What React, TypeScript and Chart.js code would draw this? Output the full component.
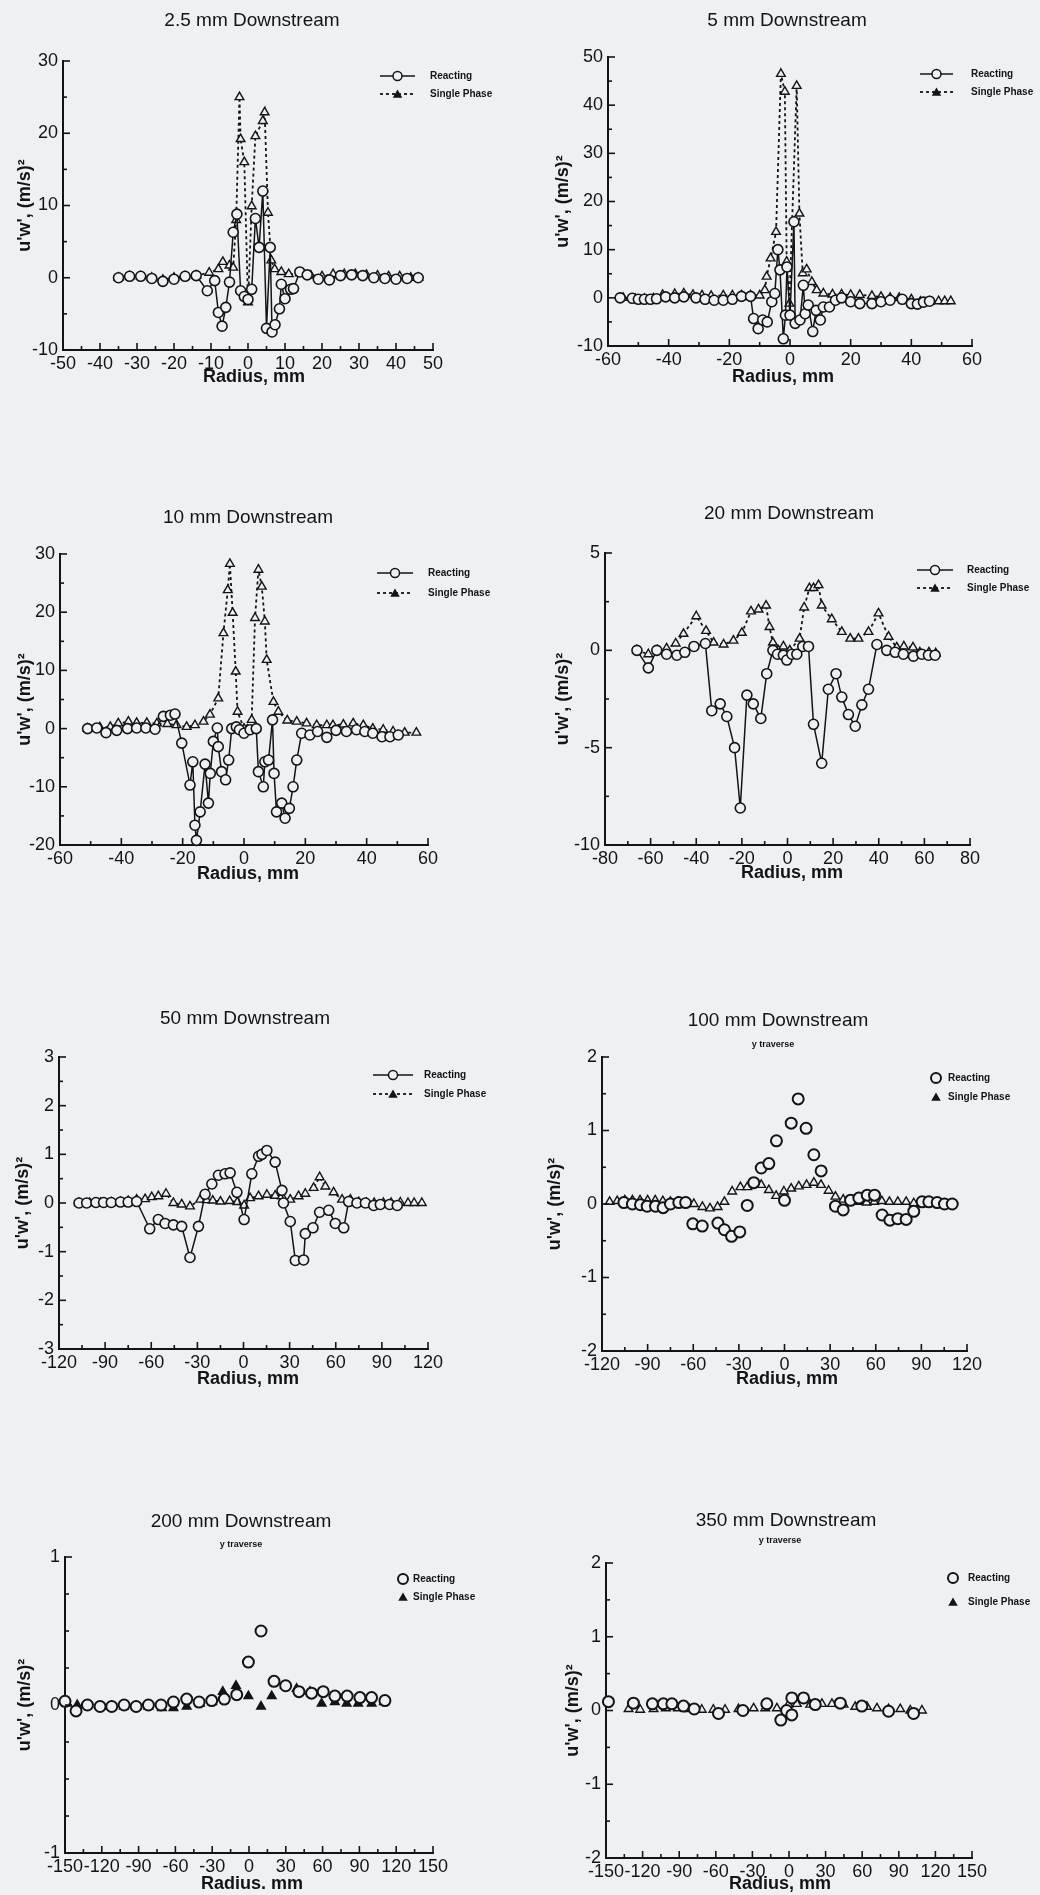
import React, { useEffect, useRef } from "react";
import { Chart, registerables } from "chart.js";

Chart.register(...registerables);

type Pt = [number, number];

// ---------- DATA (radius mm, u'w' (m/s)^2) ----------
const reacting2_5: Pt[] = [[-35,0],[-32,0.2],[-29,0.2],[-26,-0.1],[-23,-0.5],[-20,-0.2],[-17,0.2],[-14,0.3],[-11,-1.8],[-9,-0.4],[-8,-4.8],[-7,-6.7],[-6,-4.1],[-5,-0.6],[-4,6.3],[-3,8.8],[-2,-1.8],[-1,-2.6],[0,-3.0],[1,-1.6],[2,8.2],[3,4.2],[4,12],[5,-7],[6,4.2],[6.5,-7.5],[7.3,-6.5],[8.5,-4.3],[9,-0.9],[10,-2.9],[11.5,-1.6],[12.3,-1.5],[14,0.8],[16,0.4],[19,-0.2],[22,-0.3],[25,0.3],[28,0.4],[31,0.3],[34,0],[37,-0.1],[40,-0.2],[43,-0.1],[46,0]];
const single2_5: Pt[] = [[-35,0],[-32,0.2],[-29,0.2],[-26,0],[-23,-0.3],[-20,0],[-17,0.2],[-14,0.3],[-10.5,0.7],[-8,1.2],[-6.8,2.2],[-5,1.7],[-4,1.4],[-3.2,8.0],[-2.3,25],[-2,19.2],[-1,16],[0,-3.4],[1,9.9],[2,19.6],[4,21.7],[4.5,22.9],[5.4,9],[6.3,2.4],[7.2,1.2],[9,0.8],[11,0.5],[14,0.6],[17,0.3],[20,0.2],[23,0.5],[26,0.5],[29,0.5],[32,0.4],[35,0.3],[38,0.2],[41,0.2],[44,0],[46,0]];

const reacting5: Pt[] = [[-56,0],[-52,-0.1],[-50,-0.3],[-48,-0.3],[-46,-0.3],[-44,-0.2],[-41,0.2],[-38,0],[-35,0.2],[-31,0],[-28,-0.3],[-25,-0.5],[-22,-0.5],[-19,-0.3],[-16,0.3],[-13,0.3],[-12,-4.3],[-10.5,-6.4],[-9,-4.6],[-7.5,-5],[-6,-0.8],[-5,0.9],[-4,10],[-3.3,5.8],[-2.2,-8.5],[-1.5,-3.6],[-1,6.4],[0,-3.6],[1.3,15.8],[1.7,-5.3],[3.3,-4.6],[4.4,2.6],[5,-3.3],[6,-1.5],[7.5,-7],[8.6,-2.6],[10,-4.6],[11,-1.9],[13,-1.9],[15,-0.5],[17,0],[20,-0.8],[23,-1.2],[27,-1.2],[30,-0.8],[33,-0.5],[37,-0.3],[40,-1.2],[42,-1.3],[44,-0.9],[46,-0.7]];
const single5: Pt[] = [[-55,0],[-51,-0.2],[-48,-0.2],[-45,-0.1],[-42,0.6],[-38,0.8],[-35,0.9],[-32,0.6],[-29,0.5],[-26,0.4],[-22,0.5],[-19,0.5],[-16,0.5],[-13,0.5],[-10,0.5],[-8.3,1.6],[-7.7,4.4],[-6.4,8.2],[-4.6,13.7],[-3,46.5],[-1.7,42.8],[-1.1,7.5],[-0.2,-1.2],[2.2,44],[3.1,17.5],[4.2,5.1],[5.5,5.9],[7.2,3.3],[8.8,1.6],[11,0.9],[14,0.7],[17,0.7],[20,0.6],[23,0.6],[27,0.4],[30,0.2],[33,0],[36,0],[40,-0.3],[43,-0.8],[46,-0.8],[49,-0.7],[51,-0.7],[53,-0.7]];

const reacting10: Pt[] = [[-51,0],[-48,0.1],[-45,-0.7],[-41.5,-0.3],[-38,0],[-35,0.1],[-32,0.1],[-29,-0.1],[-26.3,2.1],[-24,2.3],[-22.5,2.5],[-20.3,-2.5],[-17.6,-9.7],[-16.7,-5.7],[-16,-16.6],[-15.5,-19.2],[-14.3,-14.3],[-12.7,-6.1],[-11.6,-12.8],[-11,-7.7],[-10,-2.2],[-8.7,0.1],[-8.4,-3.1],[-7.3,-7.4],[-6,-8.8],[-5,-5.4],[-4,0],[-2.5,0.3],[-1.5,-0.2],[0,-0.8],[2,-0.2],[4,0],[4.7,-7.4],[6.3,-10],[6.8,-5.7],[8,-5.4],[9.3,1.5],[9.8,-7.7],[10.6,-14.3],[12.3,-12.8],[13.4,-15.4],[14.8,-13.7],[16,-10],[17.2,-5.4],[18.8,-0.8],[21.5,-1.1],[24,-0.5],[27,-1.5],[30,-0.3],[33.4,-0.5],[36.7,-0.2],[39.4,-0.5],[42,-0.8],[45,-1.4],[47.6,-1.4],[50.3,-1.1]];
const single10: Pt[] = [[-51,0],[-47,0.2],[-43.6,0.3],[-41,0.9],[-37.7,1.2],[-35,1],[-31.7,1],[-28.4,0.9],[-25,0.8],[-22,0.6],[-18.7,0.3],[-16,0.6],[-13.2,1.2],[-11.1,2.4],[-8.4,5.2],[-6.7,16.4],[-5.3,23.8],[-4.6,28.3],[-3.7,19.9],[-2.7,9.8],[-2.1,2.9],[0,0],[2.5,1.5],[3.6,19],[4.7,27.3],[5.8,24.4],[6.8,18.4],[7.4,11.8],[9.6,4.6],[11.2,2.9],[14.1,1.4],[17.2,1.2],[20.4,0.9],[23.7,0.6],[27,0.6],[29,0.6],[32.4,0.7],[35.6,0.9],[38.9,0.6],[42,0],[45.4,-0.2],[48.6,-0.5],[52.4,-0.7],[56.2,-0.7]];

const reacting20: Pt[] = [[-66,0],[-61,-0.9],[-57.3,0],[-53,-0.2],[-48.5,-0.25],[-45,-0.1],[-41,0.2],[-36,0.35],[-33.2,-3.1],[-29.5,-2.75],[-26.6,-3.4],[-23.2,-5],[-20.7,-8.1],[-17.8,-2.3],[-15,-2.75],[-11.7,-3.5],[-9.1,-1.2],[-6.4,0],[-4.4,-0.2],[-1.8,-0.25],[-0.3,-0.5],[1.9,-0.2],[4.1,-0.2],[6.7,0.2],[9.2,0.2],[11.4,-3.8],[15,-5.8],[17.9,-2],[21.3,-1.2],[23.8,-2.4],[26.7,-3.3],[29.7,-3.9],[32.6,-2.8],[35.5,-2],[39.2,0.3],[43.5,0],[47.2,-0.1],[50.8,-0.2],[55.2,-0.3],[58.9,-0.2],[61.8,-0.25],[64.7,-0.25]];
const single20: Pt[] = [[-66,0],[-61,-0.2],[-57,0],[-53,0.1],[-49,0.35],[-45.6,0.85],[-40,1.75],[-35.7,1],[-32.4,0.4],[-28,0.3],[-23.7,0.5],[-20,0.9],[-16,2],[-12.7,2.1],[-9.4,2.3],[-7.9,1.2],[-6.4,0.4],[-4,0],[-1.8,0.2],[1,0],[5.3,0.6],[7.3,2.2],[9.6,3.2],[11.4,3.2],[13.6,3.35],[15,2.3],[19.4,1.6],[23.8,0.95],[27.5,0.6],[31.1,0.6],[35.5,0.95],[39.9,1.9],[44.3,0.7],[47.9,0.15],[51,0.2],[55,0.15],[58,-0.1],[62,-0.1],[65,-0.15]];

const reacting50: Pt[] = [[-107,0],[-102,0],[-96,0.01],[-91,0.01],[-86,0.01],[-80,0.02],[-75,0.02],[-69.5,0.03],[-61,-0.53],[-55.4,-0.34],[-51,-0.42],[-45.6,-0.45],[-40.2,-0.48],[-34.8,-1.12],[-29.3,-0.48],[-25,0.18],[-20.6,0.39],[-16.3,0.57],[-12,0.6],[-8.7,0.62],[-4.3,0.22],[0.4,-0.34],[5.4,0.6],[9.8,0.96],[12,1.0],[15.2,1.08],[20.6,0.84],[25,0.26],[26,0],[30.4,-0.38],[33.7,-1.18],[39.1,-1.17],[40.2,-0.63],[45.2,-0.51],[49.5,-0.19],[55.4,-0.15],[59.7,-0.42],[65.2,-0.51],[68.4,0.03],[73.8,0],[79.3,0],[84.7,-0.05],[89,-0.03],[95,-0.03],[100,-0.05]];
const single50: Pt[] = [[-107,0],[-100,0],[-93,0],[-86,0.01],[-80,0.02],[-75,0.04],[-69.5,0.07],[-64,0.08],[-59.7,0.12],[-55.4,0.14],[-50.4,0.19],[-45.6,0],[-40.2,-0.03],[-34.8,-0.07],[-28.2,0.07],[-24,0.06],[-20,0.05],[-15,0.03],[-9,0.04],[-4,0.02],[0.4,-0.05],[4.3,0.1],[9.8,0.14],[15.2,0.17],[20.6,0.15],[25,0.14],[30.4,0.07],[35.8,0.14],[40.2,0.19],[45.6,0.31],[49.5,0.53],[53.2,0.34],[58.6,0.22],[64.1,0.07],[69.5,0.07],[75,0.02],[80,0],[85,0],[91,0],[96,0],[102,0.01],[107,0],[111,0],[116,0]];

const reacting100: Pt[] = [[-105.6,0.02],[-100,0],[-94.7,-0.01],[-90.3,-0.03],[-84.8,-0.03],[-79.8,-0.05],[-75,0],[-69.5,0.02],[-65,0.02],[-60.3,-0.27],[-54.1,-0.3],[-43.8,-0.26],[-39.5,-0.35],[-34.8,-0.44],[-29.4,-0.38],[-24.5,-0.02],[-20.2,0.29],[-15.3,0.49],[-10.3,0.55],[-5.3,0.86],[0,0.05],[4.4,1.1],[9,1.43],[14.2,1.03],[19.3,0.67],[24.1,0.45],[33.5,-0.03],[38.6,-0.08],[43.4,0.05],[48.9,0.08],[54.4,0.12],[59.2,0.12],[64.2,-0.15],[69.3,-0.22],[74.5,-0.2],[80,-0.21],[85,-0.1],[90.5,0.03],[94.9,0.03],[100.4,0.02],[105.2,0],[110.3,0]];
const single100: Pt[] = [[-115,0.03],[-110,0.04],[-105,0.05],[-100,0.05],[-95,0.05],[-90,0.05],[-85,0.05],[-80,0.04],[-75,0.03],[-70,0.03],[-64,0.02],[-59.6,0],[-54,-0.04],[-49,-0.06],[-44,-0.04],[-39.5,0.03],[-34.4,0.17],[-29,0.23],[-24.5,0.23],[-20,0.28],[-15.3,0.26],[-10.3,0.19],[-5.5,0.11],[-0.4,0.17],[4.4,0.21],[9.4,0.24],[14.5,0.26],[19.3,0.29],[24,0.26],[29,0.18],[33.5,0.1],[38.6,0.06],[43.4,0.05],[49,0.03],[54,0.02],[59,0.03],[64,0.04],[69,0.03],[74.5,0.03],[80,0.03],[85,0.01],[90,0.01],[95,0.02],[100,0.02],[105,0]];

const reacting200: Pt[] = [[-150,0.025],[-141,-0.04],[-131.7,0],[-121.4,-0.01],[-111.9,-0.01],[-101.8,0],[-92,-0.01],[-82,0],[-71.7,0],[-61.6,0.02],[-50.8,0.04],[-40.7,0.02],[-30.4,0.03],[-20.1,0.04],[-10,0.07],[-0.5,0.29],[9.8,0.5],[20.4,0.16],[29.9,0.13],[40.7,0.09],[51,0.08],[60.5,0.09],[70,0.06],[80,0.06],[90.4,0.05],[99.9,0.05],[110.8,0.03]];
const single200: Pt[] = [[-148,0.01],[-140,0],[-131,0],[-121,-0.01],[-112,-0.01],[-102,-0.01],[-92,-0.01],[-82,-0.01],[-71,-0.02],[-61.6,-0.02],[-50.8,-0.01],[-40,0.01],[-30,0.02],[-21.4,0.09],[-10.6,0.13],[-0.5,0.06],[9.8,-0.01],[18.5,0.06],[29.3,0.13],[38.8,0.11],[49.7,0.09],[59.2,0.01],[70,0.02],[79.6,0.01],[89,0.01],[100,0.01],[110,0.02]];

const reacting350: Pt[] = [[-148,0.12],[-127.5,0.1],[-112,0.09],[-103,0.09],[-96,0.09],[-86.5,0.06],[-77.7,0.02],[-57.8,-0.04],[-37.8,0],[-18.2,0.09],[-6.7,-0.13],[-2,0],[2.3,-0.06],[2.3,0.17],[11.9,0.17],[21.5,0.08],[42,0.1],[59.7,0.06],[81.6,-0.01],[102.1,-0.04]];
const single350: Pt[] = [[-131.5,0.02],[-122,0.01],[-111,0.02],[-101,0.03],[-91,0.03],[-81.5,0.02],[-71.5,0.01],[-62,0.01],[-52.4,0.01],[-41.4,0.02],[-29,0.03],[-19.5,0.03],[-9.9,0.03],[-0.4,0.08],[6.4,0.09],[17.4,0.08],[27,0.09],[35.2,0.09],[44.7,0.08],[54.3,0.05],[63.9,0.05],[72.1,0.03],[81.6,0.02],[91.2,0.02],[99.4,0],[109,0]];

const SERIES_LABELS = ["Reacting", "Single Phase"];
const Y_LABEL = "u'w', (m/s)²";

// ---------- STYLE / LAYOUT ----------
const INK = "#141414";
const BG = "#eef0f4";
const FONT = '"Liberation Sans", Arial, Helvetica, sans-serif';

interface Panel {
  title: string;
  subtitle?: string;
  xLabel: string;
  reacting: Pt[];
  single: Pt[];
  x: [number, number, number, number]; // min, max, step, minor
  y: [number, number, number, number];
  lines: boolean;
  filledTri: boolean;
  box: [number, number, number, number]; // left, top, width, height (page)
  area: [number, number, number, number]; // l, t, r, b (page)
  titlePos: [number, number];
  subPos?: [number, number];
  xLabelPos: [number, number];
  yLabelX: number;
  legend: { x1: number; x2: number; tx: number; y1: number; y2: number };
}

const PANELS: Panel[] = [
  { title: "2.5 mm Downstream", xLabel: "Radius, mm", reacting: reacting2_5, single: single2_5,
    x: [-50, 50, 10, 5], y: [-10, 30, 10, 5], lines: true, filledTri: false,
    box: [0, 0, 520, 495], area: [63, 61, 433, 350], titlePos: [252, 21], xLabelPos: [254, 377], yLabelX: 25,
    legend: { x1: 380, x2: 415, tx: 430, y1: 76, y2: 94 } },
  { title: "5 mm Downstream", xLabel: "Radius, mm", reacting: reacting5, single: single5,
    x: [-60, 60, 20, 10], y: [-10, 50, 10, 5], lines: true, filledTri: false,
    box: [520, 0, 520, 495], area: [608, 57, 972, 346], titlePos: [787, 21], xLabelPos: [783, 377], yLabelX: 563,
    legend: { x1: 920, x2: 953, tx: 971, y1: 74, y2: 92 } },
  { title: "10 mm Downstream", xLabel: "Radius, mm", reacting: reacting10, single: single10,
    x: [-60, 60, 20, 10], y: [-20, 30, 10, 5], lines: true, filledTri: false,
    box: [0, 495, 520, 505], area: [60, 554, 428, 845], titlePos: [248, 518], xLabelPos: [248, 874], yLabelX: 25,
    legend: { x1: 377, x2: 413, tx: 428, y1: 573, y2: 593 } },
  { title: "20 mm Downstream", xLabel: "Radius, mm", reacting: reacting20, single: single20,
    x: [-80, 80, 20, 10], y: [-10, 5, 5, 2.5], lines: true, filledTri: false,
    box: [520, 495, 520, 505], area: [605, 553, 970, 845], titlePos: [789, 514], xLabelPos: [792, 873], yLabelX: 563,
    legend: { x1: 917, x2: 953, tx: 967, y1: 570, y2: 588 } },
  { title: "50 mm Downstream", xLabel: "Radius, mm", reacting: reacting50, single: single50,
    x: [-120, 120, 30, 15], y: [-3, 3, 1, 0.5], lines: true, filledTri: false,
    box: [0, 1000, 520, 500], area: [59, 1057, 428, 1349], titlePos: [245, 1019], xLabelPos: [248, 1379], yLabelX: 23,
    legend: { x1: 373, x2: 413, tx: 424, y1: 1075, y2: 1094 } },
  { title: "100 mm Downstream", subtitle: "y traverse", xLabel: "Radius, mm", reacting: reacting100, single: single100,
    x: [-120, 120, 30, 15], y: [-2, 2, 1, 0.5], lines: false, filledTri: false,
    box: [520, 1000, 520, 500], area: [602, 1057, 967, 1351], titlePos: [778, 1021], subPos: [773, 1045], xLabelPos: [787, 1379], yLabelX: 555,
    legend: { x1: 936, x2: 936, tx: 948, y1: 1078, y2: 1097 } },
  { title: "200 mm Downstream", subtitle: "y traverse", xLabel: "Radius. mm", reacting: reacting200, single: single200,
    x: [-150, 150, 30, 15], y: [-1, 1, 1, 0.25], lines: false, filledTri: true,
    box: [0, 1500, 520, 395], area: [65, 1557, 433, 1853], titlePos: [241, 1522], subPos: [241, 1545], xLabelPos: [252, 1884], yLabelX: 25,
    legend: { x1: 403, x2: 403, tx: 413, y1: 1579, y2: 1597 } },
  { title: "350 mm Downstream", subtitle: "y traverse", xLabel: "Radius, mm", reacting: reacting350, single: single350,
    x: [-150, 150, 30, 15], y: [-2, 2, 1, 0.5], lines: false, filledTri: false,
    box: [520, 1500, 520, 395], area: [606, 1563, 972, 1858], titlePos: [786, 1521], subPos: [780, 1541], xLabelPos: [780, 1884], yLabelX: 573,
    legend: { x1: 953, x2: 953, tx: 968, y1: 1578, y2: 1602 } },
];

function isMajor(v: number, step: number) {
  const r = v / step;
  return Math.abs(r - Math.round(r)) < 1e-6;
}

function triangle(ctx: CanvasRenderingContext2D, cx: number, cy: number, r: number) {
  ctx.beginPath();
  ctx.moveTo(cx, cy - r);
  ctx.lineTo(cx + r * 0.866, cy + r * 0.5);
  ctx.lineTo(cx - r * 0.866, cy + r * 0.5);
  ctx.closePath();
}

function makeDecor(p: Panel) {
  return {
    id: "decor",
    afterDraw(chart: any) {
      const ctx: CanvasRenderingContext2D = chart.ctx;
      const ox = p.box[0], oy = p.box[1];
      const xs = chart.scales.x, ys = chart.scales.y;
      const { left, top, bottom } = chart.chartArea;
      ctx.save();
      ctx.strokeStyle = INK;
      ctx.fillStyle = INK;
      ctx.lineWidth = 1.6;
      ctx.setLineDash([]);
      // inward tick marks
      const [xmin, xmax, xstep, xminor] = p.x;
      const nx = Math.round((xmax - xmin) / xminor);
      for (let i = 0; i <= nx; i++) {
        const v = xmin + i * xminor;
        const px = xs.getPixelForValue(v);
        const len = isMajor(v, xstep) ? 7 : 4;
        ctx.beginPath(); ctx.moveTo(px, bottom); ctx.lineTo(px, bottom - len); ctx.stroke();
      }
      const [ymin, ymax, ystep, yminor] = p.y;
      const ny = Math.round((ymax - ymin) / yminor);
      for (let i = 0; i <= ny; i++) {
        const v = ymin + i * yminor;
        const py = ys.getPixelForValue(v);
        const len = isMajor(v, ystep) ? 7 : 4;
        ctx.beginPath(); ctx.moveTo(left, py); ctx.lineTo(left + len, py); ctx.stroke();
      }
      // titles
      ctx.textAlign = "center";
      ctx.textBaseline = "middle";
      ctx.font = `19px ${FONT}`;
      ctx.fillText(p.title, p.titlePos[0] - ox, p.titlePos[1] - oy);
      if (p.subtitle && p.subPos) {
        ctx.font = `bold 9px ${FONT}`;
        ctx.fillText(p.subtitle, p.subPos[0] - ox, p.subPos[1] - oy);
      }
      // axis titles
      ctx.font = `bold 18px ${FONT}`;
      ctx.fillText(p.xLabel, p.xLabelPos[0] - ox, p.xLabelPos[1] - oy);
      ctx.save();
      ctx.translate(p.yLabelX - ox, (top + bottom) / 2);
      ctx.rotate(-Math.PI / 2);
      ctx.fillText(Y_LABEL, 0, 0);
      ctx.restore();
      // legend
      const L = p.legend;
      const mid = (L.x1 + L.x2) / 2 - ox;
      const y1 = L.y1 - oy, y2 = L.y2 - oy;
      const names = chart.data.datasets.map((d: any) => d.label);
      if (p.lines) {
        ctx.lineWidth = 1.5;
        ctx.beginPath(); ctx.moveTo(L.x1 - ox, y1); ctx.lineTo(L.x2 - ox, y1); ctx.stroke();
        ctx.setLineDash([3, 3]);
        ctx.lineWidth = 1.8;
        ctx.beginPath(); ctx.moveTo(L.x1 - ox, y2); ctx.lineTo(L.x2 - ox, y2); ctx.stroke();
        ctx.setLineDash([]);
      }
      ctx.lineWidth = p.lines ? 1.5 : 2;
      ctx.beginPath(); ctx.arc(mid, y1, p.lines ? 4.5 : 5, 0, Math.PI * 2);
      ctx.fillStyle = BG; ctx.fill(); ctx.stroke();
      ctx.fillStyle = INK;
      triangle(ctx, mid, y2 + 1, 5.5); ctx.fill();
      ctx.textAlign = "left";
      ctx.font = `bold 10px ${FONT}`;
      ctx.fillText(names[0], L.tx - ox, y1);
      ctx.fillText(names[1], L.tx - ox, y2);
      ctx.restore();
    },
  };
}

function makeConfig(p: Panel): any {
  const [bx, by, bw, bh] = p.box;
  const [al, at, ar, ab] = p.area;
  const L = al - bx, T = at - by, R = ar - bx, B = ab - by;
  const tickFont = { family: FONT, size: 18 };
  return {
    type: "scatter",
    data: {
      datasets: [
        {
          label: SERIES_LABELS[0],
          data: p.reacting.map(([x, y]) => ({ x, y })),
          showLine: p.lines,
          borderColor: INK,
          borderWidth: 1.5,
          pointStyle: "circle",
          pointRadius: p.lines ? 5 : 5.5,
          pointBorderWidth: p.lines ? 1.6 : 2,
          pointBackgroundColor: BG,
          pointBorderColor: INK,
          clip: false,
        },
        {
          label: SERIES_LABELS[1],
          data: p.single.map(([x, y]) => ({ x, y })),
          showLine: p.lines,
          borderColor: INK,
          borderWidth: 1.8,
          borderDash: [3, 3],
          pointStyle: "triangle",
          pointRadius: 5,
          pointBorderWidth: 1.4,
          pointBackgroundColor: p.filledTri ? INK : BG,
          pointBorderColor: INK,
          clip: false,
        },
      ],
    },
    options: {
      animation: false,
      responsive: false,
      devicePixelRatio: 1,
      events: [],
      layout: { padding: { top: T, right: bw - R, left: 0, bottom: 0 } },
      plugins: { legend: { display: false }, tooltip: { enabled: false }, title: { display: false } },
      scales: {
        x: {
          type: "linear",
          min: p.x[0],
          max: p.x[1],
          afterFit: (s: any) => { s.height = bh - B; },
          grid: { display: true, drawOnChartArea: false, drawTicks: false },
          border: { display: true, color: INK, width: 2 },
          ticks: { stepSize: p.x[2], autoSkip: false, maxRotation: 0, color: INK, font: tickFont, padding: 3 },
        },
        y: {
          type: "linear",
          min: p.y[0],
          max: p.y[1],
          afterFit: (s: any) => { s.width = L; },
          grid: { display: true, drawOnChartArea: false, drawTicks: false },
          border: { display: true, color: INK, width: 2 },
          ticks: { stepSize: p.y[2], autoSkip: false, color: INK, font: tickFont, padding: 5 },
        },
      },
    },
    plugins: [makeDecor(p)],
  };
}

function PanelChart({ p }: { p: Panel }) {
  const ref = useRef<HTMLCanvasElement>(null);
  useEffect(() => {
    if (!ref.current) return;
    const chart = new Chart(ref.current, makeConfig(p));
    return () => chart.destroy();
  }, [p]);
  const [bx, by, bw, bh] = p.box;
  return (
    <canvas
      ref={ref}
      width={bw}
      height={bh}
      style={{ position: "absolute", left: bx, top: by, width: bw, height: bh, display: "block" }}
    />
  );
}

export default function App() {
  return (
    <div
      style={{
        position: "absolute",
        left: 0,
        top: 0,
        width: 1040,
        height: 1895,
        background: BG,
        overflow: "hidden",
      }}
    >
      {PANELS.map((p) => (
        <PanelChart key={p.title} p={p} />
      ))}
    </div>
  );
}
